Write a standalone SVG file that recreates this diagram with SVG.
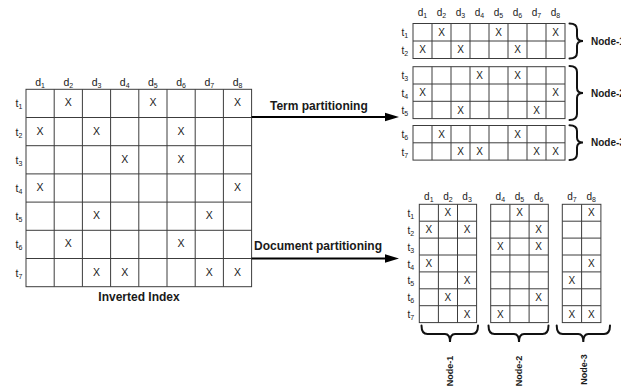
<svg xmlns="http://www.w3.org/2000/svg" width="621" height="387" viewBox="0 0 621 387">
  <style>
    text { font-family: "Liberation Sans", Arial, sans-serif; fill: #1a1a1a; }
    .lbl { font-size: 10.5px; }
    .lbl-s { font-size: 10px; }
    .sub { font-size: 7px; }
    .x { font-size: 10.5px; text-anchor: middle; }
    .xs { font-size: 10px; text-anchor: middle; }
    .mid { text-anchor: middle; }
    .bold { font-weight: bold; font-size: 12px; }
    .node { font-weight: bold; font-size: 10px; }
    .node-v { font-weight: bold; font-size: 9px; text-anchor: middle; }
    .grid { fill: #ffffff; stroke: #3c3c3c; stroke-width: 1; }
    .gl { fill: none; stroke: #3c3c3c; stroke-width: 1; }
    .brace { fill: none; stroke: #111111; stroke-width: 2; stroke-linecap: round; }
    .arrow { stroke: #000000; stroke-width: 2; }
    .head { fill: #000000; }
  </style>

  <!-- Full inverted index: 7 terms x 8 documents -->
  <g id="inverted-index">
    <rect class="grid" x="26" y="89.3" width="225.6" height="197.4"/>
    <path class="gl" d="M54.2 89.3V286.7M82.4 89.3V286.7M110.6 89.3V286.7M138.8 89.3V286.7M167 89.3V286.7M195.2 89.3V286.7M223.4 89.3V286.7
             M26 117.5H251.6M26 145.7H251.6M26 173.9H251.6M26 202.1H251.6M26 230.3H251.6M26 258.5H251.6"/>
    <g class="lbl mid">
      <text x="40.1" y="86">d<tspan class="sub" dy="2">1</tspan></text>
      <text x="68.3" y="86">d<tspan class="sub" dy="2">2</tspan></text>
      <text x="96.5" y="86">d<tspan class="sub" dy="2">3</tspan></text>
      <text x="124.7" y="86">d<tspan class="sub" dy="2">4</tspan></text>
      <text x="152.9" y="86">d<tspan class="sub" dy="2">5</tspan></text>
      <text x="181.1" y="86">d<tspan class="sub" dy="2">6</tspan></text>
      <text x="209.3" y="86">d<tspan class="sub" dy="2">7</tspan></text>
      <text x="237.5" y="86">d<tspan class="sub" dy="2">8</tspan></text>
    </g>
    <g class="lbl">
      <text x="15.5" y="107.4">t<tspan class="sub" dy="2">1</tspan></text>
      <text x="15.5" y="135.6">t<tspan class="sub" dy="2">2</tspan></text>
      <text x="15.5" y="163.8">t<tspan class="sub" dy="2">3</tspan></text>
      <text x="15.5" y="192">t<tspan class="sub" dy="2">4</tspan></text>
      <text x="15.5" y="220.2">t<tspan class="sub" dy="2">5</tspan></text>
      <text x="15.5" y="248.4">t<tspan class="sub" dy="2">6</tspan></text>
      <text x="15.5" y="276.6">t<tspan class="sub" dy="2">7</tspan></text>
    </g>
    <g class="x">
      <text x="68.3" y="106.4">X</text><text x="152.9" y="106.4">X</text><text x="237.5" y="106.4">X</text>
      <text x="40.1" y="134.6">X</text><text x="96.5" y="134.6">X</text><text x="181.1" y="134.6">X</text>
      <text x="124.7" y="162.8">X</text><text x="181.1" y="162.8">X</text>
      <text x="40.1" y="191">X</text><text x="237.5" y="191">X</text>
      <text x="96.5" y="219.2">X</text><text x="209.3" y="219.2">X</text>
      <text x="68.3" y="247.4">X</text><text x="181.1" y="247.4">X</text>
      <text x="96.5" y="275.6">X</text><text x="124.7" y="275.6">X</text><text x="209.3" y="275.6">X</text><text x="237.5" y="275.6">X</text>
    </g>
    <text class="bold mid" x="139" y="301">Inverted Index</text>
  </g>

  <!-- Term partitioning: row blocks -->
  <g id="term-partitions">
    <g class="lbl-s mid">
      <text x="422.5" y="16">d<tspan class="sub" dy="2">1</tspan></text>
      <text x="441.5" y="16">d<tspan class="sub" dy="2">2</tspan></text>
      <text x="460.5" y="16">d<tspan class="sub" dy="2">3</tspan></text>
      <text x="479.5" y="16">d<tspan class="sub" dy="2">4</tspan></text>
      <text x="498.5" y="16">d<tspan class="sub" dy="2">5</tspan></text>
      <text x="517.5" y="16">d<tspan class="sub" dy="2">6</tspan></text>
      <text x="536.5" y="16">d<tspan class="sub" dy="2">7</tspan></text>
      <text x="555.5" y="16">d<tspan class="sub" dy="2">8</tspan></text>
    </g>

    <g id="term-node-1">
      <rect class="grid" x="413" y="23.5" width="152" height="35"/>
      <path class="gl" d="M432 23.5V58.5M451 23.5V58.5M470 23.5V58.5M489 23.5V58.5M508 23.5V58.5M527 23.5V58.5M546 23.5V58.5M413 41H565"/>
      <g class="lbl-s">
        <text x="401.5" y="36.3">t<tspan class="sub" dy="2">1</tspan></text>
        <text x="401.5" y="53.8">t<tspan class="sub" dy="2">2</tspan></text>
      </g>
      <g class="xs">
        <text x="441.5" y="35.8">X</text><text x="498.5" y="35.8">X</text><text x="555.5" y="35.8">X</text>
        <text x="422.5" y="53.3">X</text><text x="460.5" y="53.3">X</text><text x="517.5" y="53.3">X</text>
      </g>
      <path class="brace" d="M569.5 23.5Q577 23.5 577 29.5L577 36Q577 41 583 41Q577 41 577 46L577 52.5Q577 58.5 569.5 58.5"/>
      <text class="node" x="591" y="44.5">Node-1</text>
    </g>

    <g id="term-node-2">
      <rect class="grid" x="413" y="66.7" width="152" height="51.9"/>
      <path class="gl" d="M432 66.7V118.6M451 66.7V118.6M470 66.7V118.6M489 66.7V118.6M508 66.7V118.6M527 66.7V118.6M546 66.7V118.6M413 84H565M413 101.3H565"/>
      <g class="lbl-s">
        <text x="401.5" y="79.4">t<tspan class="sub" dy="2">3</tspan></text>
        <text x="401.5" y="96.7">t<tspan class="sub" dy="2">4</tspan></text>
        <text x="401.5" y="114">t<tspan class="sub" dy="2">5</tspan></text>
      </g>
      <g class="xs">
        <text x="479.5" y="78.9">X</text><text x="517.5" y="78.9">X</text>
        <text x="422.5" y="96.2">X</text><text x="555.5" y="96.2">X</text>
        <text x="460.5" y="113.5">X</text><text x="536.5" y="113.5">X</text>
      </g>
      <path class="brace" d="M569.5 66Q577 66 577 72L577 88Q577 93 583 93Q577 93 577 98L577 114Q577 120 569.5 120"/>
      <text class="node" x="591" y="96.5">Node-2</text>
    </g>

    <g id="term-node-3">
      <rect class="grid" x="413" y="125.5" width="152" height="34.6"/>
      <path class="gl" d="M432 125.5V160.1M451 125.5V160.1M470 125.5V160.1M489 125.5V160.1M508 125.5V160.1M527 125.5V160.1M546 125.5V160.1M413 142.8H565"/>
      <g class="lbl-s">
        <text x="401.5" y="138.2">t<tspan class="sub" dy="2">6</tspan></text>
        <text x="401.5" y="155.5">t<tspan class="sub" dy="2">7</tspan></text>
      </g>
      <g class="xs">
        <text x="441.5" y="137.7">X</text><text x="517.5" y="137.7">X</text>
        <text x="460.5" y="155">X</text><text x="479.5" y="155">X</text><text x="536.5" y="155">X</text><text x="555.5" y="155">X</text>
      </g>
      <path class="brace" d="M569.5 125.3Q577 125.3 577 131L577 137.5Q577 142.5 583 142.5Q577 142.5 577 147.5L577 154Q577 160 569.5 160"/>
      <text class="node" x="591" y="146">Node-3</text>
    </g>
  </g>

  <!-- Document partitioning: column blocks -->
  <g id="doc-partitions">
    <g class="lbl-s">
      <text x="407.5" y="216.8">t<tspan class="sub" dy="2">1</tspan></text>
      <text x="407.5" y="233.7">t<tspan class="sub" dy="2">2</tspan></text>
      <text x="407.5" y="250.6">t<tspan class="sub" dy="2">3</tspan></text>
      <text x="407.5" y="267.5">t<tspan class="sub" dy="2">4</tspan></text>
      <text x="407.5" y="284.4">t<tspan class="sub" dy="2">5</tspan></text>
      <text x="407.5" y="301.3">t<tspan class="sub" dy="2">6</tspan></text>
      <text x="407.5" y="318.2">t<tspan class="sub" dy="2">7</tspan></text>
    </g>

    <g id="doc-node-1">
      <rect class="grid" x="419.3" y="204.3" width="57.3" height="118.3"/>
      <path class="gl" d="M438.4 204.3V322.6M457.5 204.3V322.6M419.3 221.2H476.6M419.3 238.1H476.6M419.3 255H476.6M419.3 271.9H476.6M419.3 288.8H476.6M419.3 305.7H476.6"/>
      <g class="lbl-s mid">
        <text x="428.85" y="200">d<tspan class="sub" dy="2">1</tspan></text>
        <text x="447.95" y="200">d<tspan class="sub" dy="2">2</tspan></text>
        <text x="467.05" y="200">d<tspan class="sub" dy="2">3</tspan></text>
      </g>
      <g class="xs">
        <text x="447.95" y="216.3">X</text>
        <text x="428.85" y="233.2">X</text><text x="467.05" y="233.2">X</text>
        <text x="428.85" y="267">X</text>
        <text x="467.05" y="283.9">X</text>
        <text x="447.95" y="300.8">X</text>
        <text x="467.05" y="317.7">X</text>
      </g>
      <path class="brace" d="M421.5 325.5Q421.5 334 427.5 334L445 334Q450 334 450 342Q450 334 455 334L472 334Q478 334 478 325.5"/>
      <text class="node-v" transform="translate(453.2 371) rotate(-90)">Node-1</text>
    </g>

    <g id="doc-node-2">
      <rect class="grid" x="490.7" y="204.3" width="57.6" height="118.3"/>
      <path class="gl" d="M509.9 204.3V322.6M529.1 204.3V322.6M490.7 221.2H548.3M490.7 238.1H548.3M490.7 255H548.3M490.7 271.9H548.3M490.7 288.8H548.3M490.7 305.7H548.3"/>
      <g class="lbl-s mid">
        <text x="500.3" y="200">d<tspan class="sub" dy="2">4</tspan></text>
        <text x="519.5" y="200">d<tspan class="sub" dy="2">5</tspan></text>
        <text x="538.7" y="200">d<tspan class="sub" dy="2">6</tspan></text>
      </g>
      <g class="xs">
        <text x="519.5" y="216.3">X</text>
        <text x="538.7" y="233.2">X</text>
        <text x="500.3" y="250.1">X</text><text x="538.7" y="250.1">X</text>
        <text x="538.7" y="300.8">X</text>
        <text x="500.3" y="317.7">X</text>
      </g>
      <path class="brace" d="M488.5 325.5Q488.5 334 494.5 334L514 334Q519 334 519 342Q519 334 524 334L542.5 334Q548.5 334 548.5 325.5"/>
      <text class="node-v" transform="translate(522.2 371) rotate(-90)">Node-2</text>
    </g>

    <g id="doc-node-3">
      <rect class="grid" x="562.3" y="204.3" width="38.6" height="118.3"/>
      <path class="gl" d="M581.6 204.3V322.6M562.3 221.2H600.9M562.3 238.1H600.9M562.3 255H600.9M562.3 271.9H600.9M562.3 288.8H600.9M562.3 305.7H600.9"/>
      <g class="lbl-s mid">
        <text x="571.95" y="200">d<tspan class="sub" dy="2">7</tspan></text>
        <text x="591.25" y="200">d<tspan class="sub" dy="2">8</tspan></text>
      </g>
      <g class="xs">
        <text x="591.25" y="216.3">X</text>
        <text x="591.25" y="267">X</text>
        <text x="571.95" y="283.9">X</text>
        <text x="571.95" y="317.7">X</text><text x="591.25" y="317.7">X</text>
      </g>
      <path class="brace" d="M556.7 325.5Q556.7 334 562.7 334L578.3 334Q583.3 334 583.3 342Q583.3 334 588.3 334L604 334Q610 334 610 325.5"/>
      <text class="node-v" transform="translate(586.5 369.5) rotate(-90)">Node-3</text>
    </g>
  </g>

  <!-- Partitioning arrows -->
  <g id="connectors">
    <line class="arrow" x1="251.6" y1="117" x2="387" y2="117"/>
    <polygon class="head" points="385,112.8 399,117 385,121.2"/>
    <text class="bold" x="270" y="110">Term partitioning</text>
    <line class="arrow" x1="251.6" y1="258.5" x2="387" y2="258.5"/>
    <polygon class="head" points="385,254.3 399,258.5 385,262.7"/>
    <text class="bold" x="254" y="250">Document partitioning</text>
  </g>
</svg>
